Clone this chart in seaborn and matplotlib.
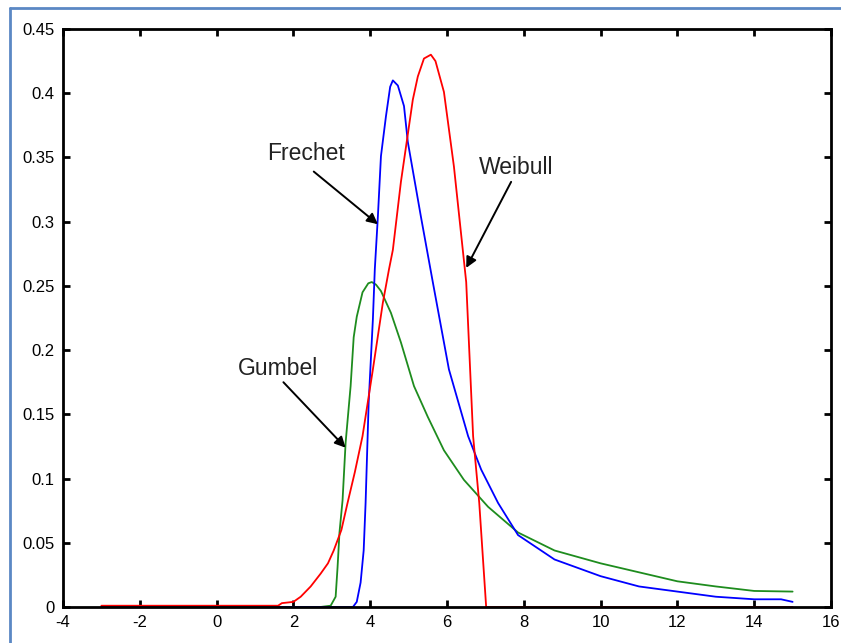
import matplotlib
matplotlib.use("Agg")
import matplotlib.pyplot as plt
import seaborn as sns
from matplotlib.lines import Line2D

# --------------------------------------------
# Data
# --------------------------------------------

gumbel_x = [-3, 2.7, 2.97, 3.1, 3.15, 3.2, 3.28, 3.36, 3.49, 3.57, 3.65, 3.8, 3.95,
            4.04, 4.15, 4.28, 4.54, 4.8, 5.14, 5.5, 5.92, 6.44, 7.07, 7.85, 8.8,
            10, 11, 12, 13, 14, 15]
gumbel_y = [0, 0, 0.001, 0.008, 0.031, 0.058, 0.083, 0.128, 0.172, 0.21, 0.226, 0.245, 0.252,
            0.253, 0.251, 0.246, 0.229, 0.206, 0.172, 0.148, 0.122, 0.099, 0.078, 0.058, 0.044,
            0.034, 0.027, 0.020, 0.016, 0.0125, 0.012]

frechet_x = [-3, 3.55, 3.65, 3.75, 3.83, 3.88, 3.96, 4.07, 4.12, 4.2, 4.28, 4.41, 4.52,
             4.59, 4.72, 4.88, 4.98, 5.32, 5.63, 6.05, 6.55, 6.89, 7.33, 7.85, 8.8,
             10, 11, 12, 13, 14, 14.7, 15]
frechet_y = [0, 0, 0.004, 0.019, 0.044, 0.081, 0.159, 0.224, 0.263, 0.304, 0.351, 0.382, 0.405,
             0.41, 0.406, 0.39, 0.362, 0.304, 0.253, 0.185, 0.133, 0.107, 0.081, 0.056, 0.037,
             0.024, 0.016, 0.012, 0.008, 0.006, 0.006, 0.004]

weibull_x = [-3, 1.6, 1.7, 2.0, 2.19, 2.45, 2.71, 2.9, 3.05, 3.25, 3.41, 3.6, 3.8,
             4.07, 4.33, 4.49, 4.59, 4.8, 5.11, 5.24, 5.4, 5.58, 5.7, 5.92, 6.18,
             6.5, 6.68, 6.84, 7.02, 15]
weibull_y = [0.001, 0.001, 0.003, 0.004, 0.008, 0.016, 0.026, 0.034, 0.044, 0.06, 0.081, 0.105, 0.133,
             0.185, 0.237, 0.263, 0.278, 0.331, 0.395, 0.413, 0.427, 0.43, 0.425, 0.401, 0.343,
             0.253, 0.133, 0.081, 0, 0]

x_ticks = [-4, -2, 0, 2, 4, 6, 8, 10, 12, 14, 16]
y_ticks = [0, 0.05, 0.1, 0.15, 0.2, 0.25, 0.3, 0.35, 0.4, 0.45]
y_tick_labels = ["0", "0.05", "0.1", "0.15", "0.2", "0.25", "0.3", "0.35", "0.4", "0.45"]

# label text position, arrow tail, arrow tip
labels = {
    "Frechet": ((2.32, 0.353), (2.53, 0.339), (4.2, 0.298)),
    "Weibull": ((7.8, 0.342), (7.67, 0.331), (6.5, 0.264)),
    "Gumbel": ((1.61, 0.186), (1.74, 0.175), (3.36, 0.124)),
}

# --------------------------------------------
# Plot
# --------------------------------------------

sns.set_style("ticks")
plt.rcParams["font.family"] = ["Liberation Sans", "DejaVu Sans"]
plt.rcParams["axes.unicode_minus"] = False

fig = plt.figure(figsize=(8.41, 6.43), dpi=100)
ax = fig.add_axes([63 / 841, 1 - 607 / 643, (831 - 63) / 841, (607 - 29) / 643])

sns.lineplot(x=gumbel_x, y=gumbel_y, color="#1e8c1e", lw=1.3, sort=False,
             estimator=None, ax=ax)
sns.lineplot(x=frechet_x, y=frechet_y, color="#0000ff", lw=1.3, sort=False,
             estimator=None, ax=ax)
sns.lineplot(x=weibull_x, y=weibull_y, color="#ff0000", lw=1.3, sort=False,
             estimator=None, ax=ax)

for name, (txt, tail, tip) in labels.items():
    ax.text(txt[0], txt[1], name, fontsize=16.5, ha="center", va="center",
            color="#222222")
    ax.annotate("", xy=tip, xytext=tail,
                arrowprops=dict(arrowstyle="-|>", color="black", lw=1.4,
                                mutation_scale=16, shrinkA=0, shrinkB=0))

ax.set_xlim(-4, 16)
ax.set_ylim(0, 0.45)
ax.set_xticks(x_ticks)
ax.set_yticks(y_ticks)
ax.set_yticklabels(y_tick_labels)
ax.tick_params(direction="in", length=5, width=2, top=True, right=True,
               labelsize=12, colors="black", pad=6)
for side in ["left", "right", "top", "bottom"]:
    ax.spines[side].set_visible(True)
    ax.spines[side].set_linewidth(2)
    ax.spines[side].set_color("black")

# light blue frame around the figure
frame_color = "#5b88c4"
fig.add_artist(Line2D([10 / 841, 10 / 841], [0, 1 - 8 / 643], color=frame_color,
                      lw=2, transform=fig.transFigure))
fig.add_artist(Line2D([10 / 841, 1], [1 - 8 / 643, 1 - 8 / 643], color=frame_color,
                      lw=2, transform=fig.transFigure))

fig.savefig("out.png", dpi=100)
